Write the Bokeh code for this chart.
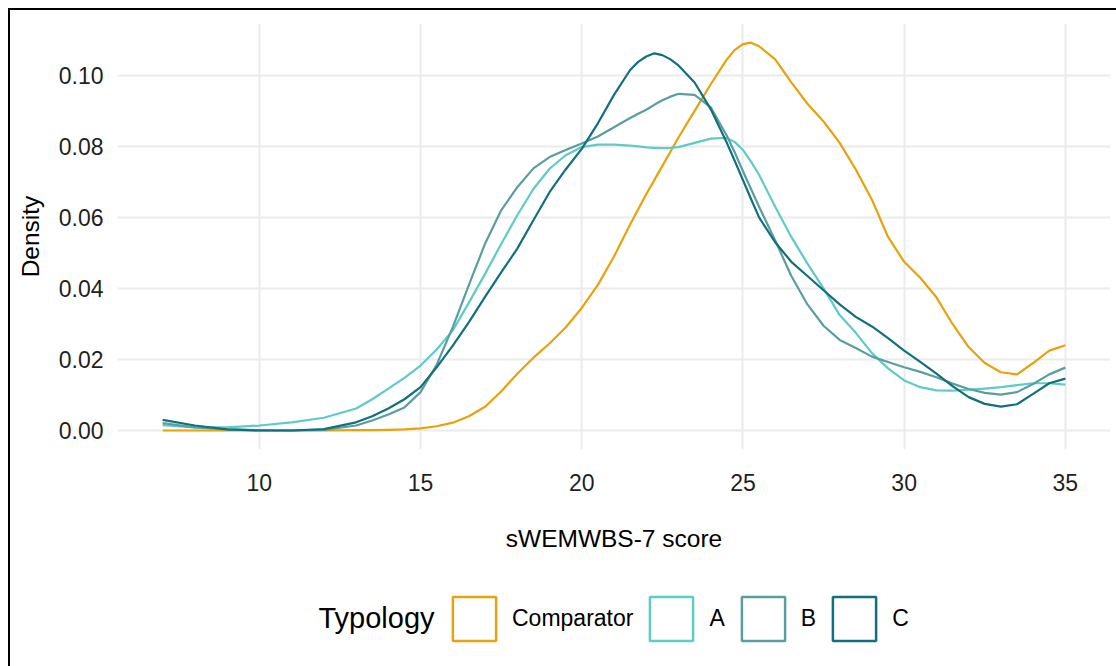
from bokeh.plotting import figure
from bokeh.models import Range1d, FixedTicker, Legend, LegendItem, Label, Column
from bokeh.embed import file_html
from bokeh.resources import INLINE

# ---- data ----
score = [7, 8, 9, 10, 11, 12, 13, 13.5, 14, 14.5, 15, 15.5, 16, 16.5, 17, 17.5, 18, 18.5,
         19, 19.5, 20, 20.5, 21, 21.5, 21.75, 22, 22.25, 22.5, 22.75, 23, 23.5, 24, 24.5, 24.75,
         25, 25.25, 25.5, 26, 26.5, 27, 27.5, 28, 28.5, 29, 29.5, 30, 30.5, 31, 31.5, 32, 32.5,
         33, 33.5, 34, 34.5, 35]

comparator = [0, 0, 0, 0, 0, 0, 0.0001, 0.0001, 0.0002, 0.0003, 0.0006, 0.0012, 0.0022, 0.004,
              0.0067, 0.011, 0.016, 0.0205, 0.0245, 0.029, 0.0345, 0.041, 0.049, 0.058, 0.0623,
              0.0665, 0.0705, 0.0745, 0.0785, 0.0825, 0.090, 0.0975, 0.1045, 0.1072, 0.1088,
              0.1092, 0.1082, 0.1045, 0.098, 0.092, 0.087, 0.081, 0.0735, 0.065, 0.0545, 0.0475,
              0.043, 0.0375, 0.030, 0.0235, 0.019, 0.0164, 0.0158, 0.019, 0.0225, 0.024]

type_a = [0.0015, 0.0009, 0.0009, 0.0014, 0.0023, 0.0036, 0.0062, 0.0088, 0.0118, 0.0148, 0.0183,
          0.0228, 0.0282, 0.036, 0.0441, 0.0525, 0.0606, 0.068, 0.0737, 0.0775, 0.0798, 0.0805,
          0.0805, 0.0802, 0.0800, 0.0797, 0.0796, 0.0795, 0.0796, 0.0798, 0.081, 0.0822, 0.0824,
          0.0812, 0.079, 0.0757, 0.072, 0.063, 0.0545, 0.047, 0.040, 0.0325, 0.0275, 0.0218,
          0.0175, 0.0141, 0.0122, 0.0113, 0.0112, 0.0115, 0.0118, 0.0122, 0.0128, 0.0133,
          0.0133, 0.0129]

type_b = [0.0021, 0.0009, 0.0003, 0.0001, 0, 0.0002, 0.0014, 0.0028, 0.0045, 0.0065, 0.0108,
          0.0185, 0.0291, 0.041, 0.0526, 0.062, 0.0685, 0.0738, 0.077, 0.079, 0.0808, 0.0828,
          0.0854, 0.088, 0.0892, 0.0903, 0.0917, 0.093, 0.0940, 0.0948, 0.0945, 0.091, 0.083,
          0.0782, 0.073, 0.068, 0.063, 0.0535, 0.0435, 0.0355, 0.0295, 0.0255, 0.0232, 0.0208,
          0.0193, 0.0178, 0.0165, 0.015, 0.0132, 0.0117, 0.0106, 0.0101, 0.0108, 0.0131, 0.0158,
          0.0177]

type_c = [0.003, 0.0014, 0.0003, 0.0, 0, 0.0004, 0.0023, 0.004, 0.0062, 0.0088, 0.0122, 0.0178,
          0.0239, 0.0305, 0.0376, 0.0445, 0.0512, 0.0592, 0.0671, 0.0735, 0.0793, 0.0865, 0.0945,
          0.1015, 0.1038, 0.1053, 0.1062, 0.1057, 0.1045, 0.1028, 0.098, 0.0905, 0.081, 0.0758,
          0.0705, 0.0652, 0.060, 0.053, 0.0475, 0.0435, 0.0395, 0.0355, 0.032, 0.0293, 0.026,
          0.0225, 0.0193, 0.016, 0.0125, 0.0094, 0.0075, 0.0067, 0.0074, 0.0103, 0.0133, 0.0146]

series_names = ["Comparator", "A", "B", "C"]
series_values = [comparator, type_a, type_b, type_c]
series_colors = ["#E8A20C", "#5ECBC8", "#5B9EA0", "#11707F"]
legend_title = "Typology"

x_ticks = [10, 15, 20, 25, 30, 35]
y_ticks = [0.0, 0.02, 0.04, 0.06, 0.08, 0.10]
y_tick_labels = ["0.00", "0.02", "0.04", "0.06", "0.08", "0.10"]

FONT = "Liberation Sans"

# ---- main panel ----
p = figure(width=1106, height=570, output_backend="svg", toolbar_location=None,
           x_range=Range1d(5.6, 36.4), y_range=Range1d(-0.00535, 0.1146),
           min_border_left=107, min_border_right=6, min_border_top=13, min_border_bottom=131,
           background_fill_color="white", border_fill_color="white")
p.outline_line_color = None

for name, vals, col in zip(series_names, series_values, series_colors):
    p.line(score, vals, line_color=col, line_width=2.2, line_join="round")

p.xaxis.ticker = FixedTicker(ticks=x_ticks)
p.yaxis.ticker = FixedTicker(ticks=y_ticks)
p.yaxis.major_label_overrides = {t: l for t, l in zip(y_ticks, y_tick_labels)}
for ax in (p.xaxis[0], p.yaxis[0]):
    ax.axis_line_color = None
    ax.major_tick_line_color = None
    ax.minor_tick_line_color = None
    ax.major_tick_out = 0
    ax.major_tick_in = 0
    ax.minor_tick_out = 0
    ax.minor_tick_in = 0
    ax.major_label_text_font = FONT
    ax.major_label_text_font_size = "23px"
    ax.major_label_text_color = "#1F1F1F"
    ax.axis_label_text_font = FONT
    ax.axis_label_text_font_size = "24.5px"
    ax.axis_label_text_font_style = "normal"
    ax.axis_label_text_color = "black"
p.xaxis.axis_label = "sWEMWBS-7 score"
p.yaxis.axis_label = "Density"
p.xaxis.major_label_standoff = 24
p.xaxis.axis_label_standoff = 31
p.yaxis.major_label_standoff = 14
p.yaxis.axis_label_standoff = 12

p.xgrid.grid_line_color = "#EBEBEB"
p.ygrid.grid_line_color = "#EBEBEB"
p.xgrid.grid_line_width = 2
p.ygrid.grid_line_width = 2
p.xgrid.ticker = FixedTicker(ticks=x_ticks)
p.ygrid.ticker = FixedTicker(ticks=y_ticks)

# ---- legend strip ----
q = figure(width=1106, height=86, output_backend="svg", toolbar_location=None,
           x_range=Range1d(0, 1), y_range=Range1d(0, 1),
           min_border_left=0, min_border_right=0, min_border_top=0, min_border_bottom=0,
           background_fill_color="white", border_fill_color="white")
q.outline_line_color = None
q.axis.visible = False
q.grid.visible = False

nan = float("nan")
items = []
for name, col in zip(series_names, series_colors):
    r = q.quad(left=[nan], right=[nan], top=[nan], bottom=[nan],
               fill_color=None, line_color=col, line_width=2.5)
    items.append(LegendItem(label=name, renderers=[r]))

legend = Legend(items=items, orientation="horizontal", location=(330, 20),
                glyph_width=54, glyph_height=55, label_standoff=11, spacing=11,
                label_width=5, padding=0, margin=0,
                label_text_font=FONT, label_text_font_size="23px", label_text_color="black",
                background_fill_alpha=0, border_line_color=None)
q.add_layout(legend, "center")

q.add_layout(Label(x=201, y=49, x_units="screen", y_units="screen", text=legend_title,
                   text_font=FONT, text_font_size="29px", text_color="black",
                   text_baseline="middle", text_align="left"))

layout = Column(children=[p, q], spacing=0, margin=(8, 0, 0, 8),
                styles={"border-left": "2px solid black", "border-top": "2px solid black"})

open("out.html", "w").write(file_html(layout, INLINE))
